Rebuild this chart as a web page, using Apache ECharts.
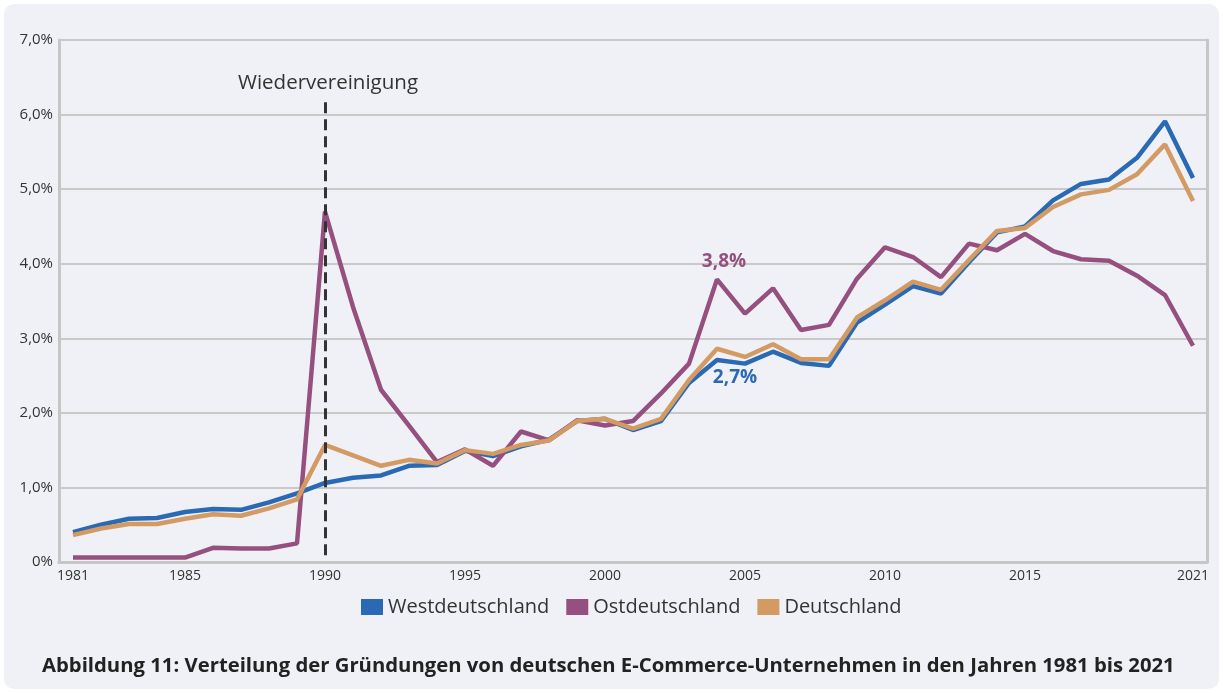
<!DOCTYPE html>
<html>
<head>
<meta charset="utf-8">
<script src="https://cdn.jsdelivr.net/npm/echarts@6/dist/echarts.min.js"></script>
<style>
  html, body { margin: 0; padding: 0; background: #ffffff; }
  #panel { position: absolute; left: 4px; top: 4px; width: 1215px; height: 685px; background: #eff1f6; border-radius: 10px; }
  #chart { position: absolute; left: 0; top: 0; width: 1223px; height: 693px; }
</style>
</head>
<body>
<div id="panel"></div>
<div id="chart"></div>
<script>
// years 1981 .. 2021
const years = []
for (let y = 1981; y <= 2021; y++) years.push(String(y))

const xTickYears = ['1981', '1985', '1990', '1995', '2000', '2005', '2010', '2015', '2021']

// Anteil in %
const west = [
  0.40, 0.50, 0.58, 0.59, 0.67, 0.71, 0.70, 0.80, 0.92, 1.06,
  1.13, 1.16, 1.29, 1.30, 1.49, 1.42, 1.55, 1.64, 1.89, 1.92,
  1.77, 1.89, 2.40, 2.71, 2.66, 2.82, 2.67, 2.63, 3.21, 3.45,
  3.70, 3.60, 4.02, 4.42, 4.50, 4.85, 5.07, 5.13, 5.42, 5.91,
  5.15,
]
const ost = [
  0.06, 0.06, 0.06, 0.06, 0.06, 0.19, 0.18, 0.18, 0.25, 4.70,
  3.42, 2.31, 1.83, 1.34, 1.51, 1.29, 1.75, 1.63, 1.90, 1.83,
  1.89, 2.26, 2.66, 3.79, 3.33, 3.67, 3.11, 3.18, 3.80, 4.22,
  4.09, 3.82, 4.27, 4.18, 4.40, 4.17, 4.06, 4.04, 3.84, 3.58,
  2.90,
]
const deutschland = [
  0.36, 0.45, 0.51, 0.51, 0.58, 0.64, 0.62, 0.72, 0.84, 1.57,
  1.43, 1.29, 1.37, 1.32, 1.50, 1.45, 1.57, 1.63, 1.89, 1.92,
  1.79, 1.92, 2.44, 2.86, 2.75, 2.92, 2.72, 2.72, 3.28, 3.51,
  3.76, 3.65, 4.05, 4.44, 4.48, 4.76, 4.93, 4.99, 5.20, 5.60,
  4.84,
]

const seriesNames = ['Westdeutschland', 'Ostdeutschland', 'Deutschland']
const colors = ['#2a6ab5', '#96507f', '#d49a63']

// Wiedervereinigung marker (year, from/to in %)
const reunionYear = '1990'
const reunionSpan = [0.09, 6.24]
const highlightYear = '2004'

const fmtPct = (v) => v.toFixed(1).replace('.', ',') + '%'

function withLabel(arr, color, position, offset) {
  return arr.map((v, i) => {
    if (years[i] !== highlightYear) return v
    return {
      value: v,
      label: {
        show: true,
        position,
        offset,
        distance: 8,
        formatter: (p) => fmtPct(p.value),
        color,
        fontFamily: 'Open Sans',
        fontWeight: 'bold',
        fontSize: 19,
      },
    }
  })
}

const chart = echarts.init(document.getElementById('chart'))

const baseSeries = {
  type: 'line',
  showSymbol: true,
  showAllSymbol: true,
  symbol: 'circle',
  symbolSize: 0,
  silent: true,
  label: { show: false },
}

const option = {
  animation: false,
  backgroundColor: 'transparent',
  title: {
    text: 'Abbildung 11: Verteilung der Gründungen von deutschen E-Commerce-Unternehmen in den Jahren 1981 bis 2021',
    left: 42,
    top: 656,
    padding: 0,
    textStyle: {
      fontFamily: 'Open Sans',
      fontWeight: 'bold',
      fontSize: 20.3,
      color: '#222',
    },
  },
  legend: {
    left: 361,
    top: 597,
    icon: 'rect',
    itemWidth: 22,
    itemHeight: 16,
    itemGap: 17,
    padding: 0,
    textStyle: { fontFamily: 'Open Sans', fontSize: 20, color: '#333' },
    data: seriesNames,
  },
  grid: { left: 59, right: 16, top: 40, bottom: 131, containLabel: false },
  xAxis: {
    type: 'category',
    boundaryGap: true,
    data: years,
    axisLine: { lineStyle: { color: '#c6c6c6', width: 3 } },
    axisTick: { show: false },
    axisLabel: {
      interval: (i, v) => xTickYears.includes(v),
      margin: 7,
      fontFamily: 'Open Sans',
      fontSize: 14,
      color: '#333',
    },
  },
  yAxis: [
    {
      type: 'value',
      min: 0,
      max: 7,
      interval: 1,
      axisLine: { show: true, lineStyle: { color: '#c6c6c6', width: 3 } },
      axisTick: { show: false },
      axisLabel: {
        formatter: (v) => (v === 0 ? '0%' : fmtPct(v)),
        margin: 6,
        fontFamily: 'Open Sans',
        fontSize: 15,
        color: '#333',
      },
      splitLine: { lineStyle: { color: '#c9c9c9', width: 2 } },
    },
    {
      type: 'value',
      position: 'right',
      min: 0,
      max: 7,
      interval: 1,
      axisLine: { show: true, lineStyle: { color: '#c6c6c6', width: 3 } },
      axisTick: { show: false },
      axisLabel: { show: false },
      splitLine: { show: false },
    },
  ],
  series: [
    {
      ...baseSeries,
      name: seriesNames[0],
      data: withLabel(west, colors[0], 'bottom', [18, 0]),
      lineStyle: { color: colors[0], width: 4.5 },
      itemStyle: { color: colors[0] },
      z: 2,
    },
    {
      ...baseSeries,
      name: seriesNames[1],
      data: withLabel(ost, colors[1], 'top', [7, 0]),
      lineStyle: { color: colors[1], width: 4.5 },
      itemStyle: { color: colors[1] },
      z: 3,
      markLine: {
        silent: true,
        symbol: 'none',
        lineStyle: { color: '#333', width: 3, type: [11, 6] },
        label: {
          show: true,
          position: 'end',
          distance: 3,
          offset: [3, 0],
          formatter: 'Wiedervereinigung',
          fontFamily: 'Open Sans',
          fontSize: 20.5,
          color: '#333',
        },
        data: [[
          { coord: [reunionYear, reunionSpan[0]] },
          { coord: [reunionYear, reunionSpan[1]] },
        ]],
      },
    },
    {
      ...baseSeries,
      name: seriesNames[2],
      data: deutschland,
      lineStyle: { color: colors[2], width: 4.5 },
      itemStyle: { color: colors[2] },
      z: 4,
    },
  ],
}

chart.setOption(option)
</script>
</body>
</html>
